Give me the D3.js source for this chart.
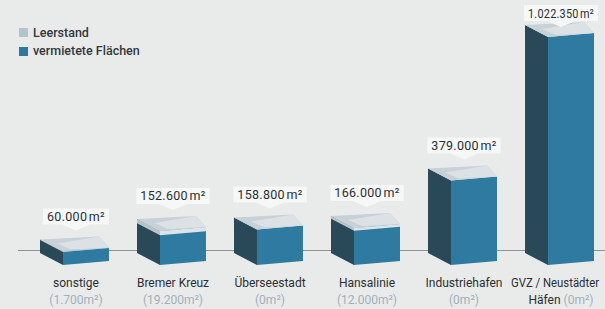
<!DOCTYPE html>
<html>
<head>
<meta charset="utf-8">
<script src="https://cdn.jsdelivr.net/npm/d3@7"></script>
<style>
  body { margin: 0; background: #e9ebeb; }
  svg { display: block; font-family: Roboto, "Noto Sans", sans-serif; }
  .cat { fill: #2b2f33; font-size: 12px; }
  .sub { fill: #9fb0bd; font-size: 12px; }
  .val { fill: #2b2f33; font-size: 12.5px; letter-spacing: 0.3px; }
  .legend text { fill: #33383c; font-size: 12.5px; font-weight: 500; }
</style>
</head>
<body>
<div id="chart"></div>
<script>
(function () {

  // data
  const categories = ["sonstige", "Bremer Kreuz", "Überseestadt", "Hansalinie", "Industriehafen", "GVZ / Neustädter Häfen"];
  const categoryLines = [["sonstige"], ["Bremer Kreuz"], ["Überseestadt"], ["Hansalinie"], ["Industriehafen"], ["GVZ / Neustädter", "Häfen"]];
  const totals = [60000, 152600, 158800, 166000, 379000, 1022350];
  const leerstand = [1700, 19200, 0, 12000, 0, 0];
  const legendItems = ["Leerstand", "vermietete Flächen"];

  // chart settings
  const svg_width = 605, svg_height = 309;
  const floorY = 265;          // bottom of front faces (left edge)
  const slope = 4;             // front face rises this much to the right
  const depthX = 23, depthY = 12;
  const colors = { front: "#2f7aa1", side: "#294858", top: "#c8d1d7", leer: "#dde4e8", leerSide: "#b9c4ca" };

  const de = d3.formatLocale({ decimal: ",", thousands: ".", grouping: [3], currency: ["", "€"] });
  const fmt = de.format(",");

  const data = categories.map((c, i) => ({
    cat: c, lines: categoryLines[i], total: totals[i], leer: leerstand[i]
  }));

  const x = d3.scaleBand()
    .domain(categories)
    .range([63, 594])
    .paddingInner(0.526)
    .paddingOuter(0);
  const h = d3.scaleLinear()
    .domain([0, d3.max(totals)])
    .range([0, 228]);

  const svg = d3.select("#chart").append("svg")
    .attr("width", svg_width)
    .attr("height", svg_height);

  svg.append("rect")
    .attr("width", svg_width).attr("height", svg_height)
    .attr("fill", "#e9ebeb");

  // baseline
  svg.append("line")
    .attr("x1", 18).attr("x2", svg_width)
    .attr("y1", 250.5).attr("y2", 250.5)
    .attr("stroke", "#8c9194").attr("stroke-width", 1);

  // legend
  const legend = svg.append("g").attr("class", "legend");
  legend.selectAll("rect")
    .data(legendItems)
    .enter().append("rect")
    .attr("x", 19).attr("y", (d, i) => 28 + i * 19)
    .attr("width", 9).attr("height", 9)
    .attr("fill", (d, i) => i === 0 ? "#b7c3cb" : "#2b78a0");
  legend.selectAll("text")
    .data(legendItems)
    .enter().append("text")
    .attr("x", 33).attr("y", (d, i) => 37 + i * 18)
    .text(d => d);

  const line = d3.line();
  const bw = x.bandwidth();

  const boxes = svg.selectAll(".box")
    .data(data)
    .enter().append("g")
    .attr("class", "box");

  function geom(d) {
    const a = x(d.cat), b = a + bw;
    const t = floorY - h(d.total);
    return { a, b, t, l: h(d.leer) };
  }

  // left side face
  boxes.append("path")
    .attr("fill", colors.side)
    .attr("d", d => {
      const g = geom(d);
      return line([[g.a - depthX, g.t - depthY], [g.a, g.t], [g.a, floorY], [g.a - depthX, floorY - depthY]]) + "Z";
    });

  // front face
  boxes.append("path")
    .attr("fill", colors.front)
    .attr("d", d => {
      const g = geom(d);
      return line([[g.a, g.t], [g.b, g.t - slope], [g.b, floorY - slope], [g.a, floorY]]) + "Z";
    });

  // Leerstand slab on top of the box
  boxes.filter(d => d.leer > 0).append("path")
    .attr("fill", colors.leer)
    .attr("d", d => {
      const g = geom(d);
      return line([[g.a, g.t], [g.b, g.t - slope], [g.b, g.t - slope + g.l], [g.a, g.t + g.l]]) + "Z";
    });
  boxes.filter(d => d.leer > 0).append("path")
    .attr("fill", colors.leerSide)
    .attr("d", d => {
      const g = geom(d);
      return line([[g.a - depthX, g.t - depthY], [g.a, g.t], [g.a, g.t + g.l], [g.a - depthX, g.t - depthY + g.l]]) + "Z";
    });

  // top face
  boxes.append("path")
    .attr("fill", colors.top)
    .attr("d", d => {
      const g = geom(d);
      return line([[g.a - depthX, g.t - depthY], [g.b - 10, g.t - slope - 11], [g.b, g.t - slope], [g.a, g.t]]) + "Z";
    });
  boxes.append("path")
    .attr("fill", "#dbe1e5")
    .attr("d", d => {
      const g = geom(d);
      return line([[g.a - 6, g.t - 8], [g.b - 10, g.t - slope - 11], [g.b, g.t - slope], [g.a + 8, g.t - 2]]) + "Z";
    });

  // value callouts
  const callouts = boxes.append("g").attr("class", "callout");
  callouts.each(function (d) {
    const g = geom(d);
    const cx = g.a + bw / 2 - 10;
    const backTop = g.t - depthY;
    const boxTop = Math.max(5, backTop - 31);
    const sel = d3.select(this);
    const bg = sel.append("path").attr("fill", "#f6f7f7");
    const txt = sel.append("text")
      .attr("class", "val")
      .attr("x", cx)
      .attr("y", boxTop + 12.5)
      .attr("text-anchor", "middle")
      .text(fmt(d.total) + "\u200Am²");
    let w = txt.node().getComputedTextLength();
    if (w > 66) {
      txt.attr("textLength", 66).attr("lengthAdjust", "spacingAndGlyphs");
      w = 66;
    }
    const x0 = cx - w / 2 - 4, x1 = cx + w / 2 + 4, y0 = boxTop, y1 = boxTop + 16;
    bg.attr("d", line([[x0, y0], [x1, y0], [x1, y1], [cx + 14, y1], [cx, y1 + 6], [cx - 14, y1], [x0, y1]]) + "Z");
  });

  // category labels
  boxes.each(function (d) {
    const cx = x(d.cat) + bw / 2 - 10;
    const t = d3.select(this).append("text")
      .attr("text-anchor", "middle")
      .attr("x", cx);
    const first = t.append("tspan").attr("class", "cat").attr("x", cx).attr("y", 287).text(d.lines[0]);
    // keep the long label inside the right edge
    const w = first.node().getComputedTextLength();
    if (cx + w / 2 > svg_width - 6) {
      const fit = Math.min(w, 88);
      first.attr("x", svg_width - 6 - fit / 2)
        .attr("textLength", fit).attr("lengthAdjust", "spacingAndGlyphs");
    }
    const second = t.append("tspan").attr("x", cx).attr("y", 304);
    if (d.lines.length > 1) {
      second.append("tspan").attr("class", "cat").text(d.lines[1] + " ");
    }
    second.append("tspan").attr("class", "sub").text("(" + fmt(d.leer) + "m²)");
  });

})();
</script>
</body>
</html>
